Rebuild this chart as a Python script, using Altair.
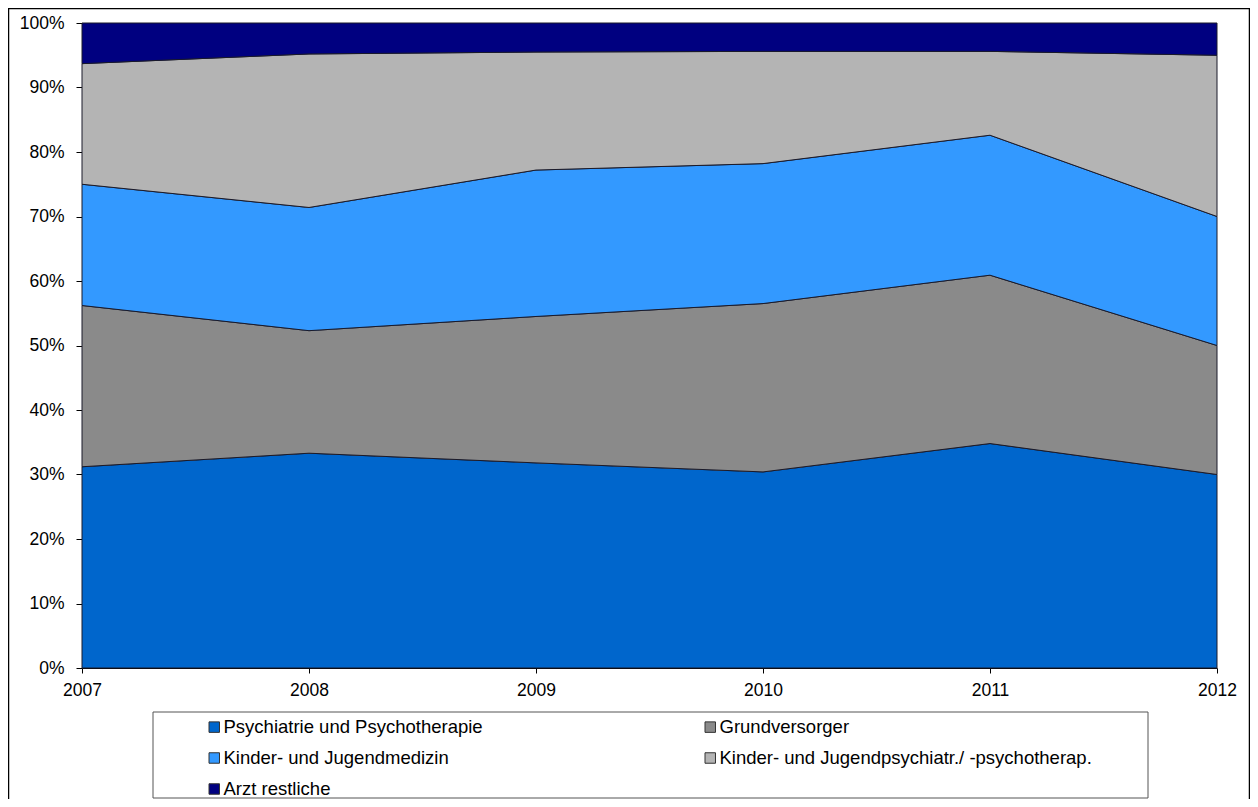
import altair as alt
import pandas as pd

years = ["2007", "2008", "2009", "2010", "2011", "2012"]
series = [
    "Psychiatrie und Psychotherapie",
    "Grundversorger",
    "Kinder- und Jugendmedizin",
    "Kinder- und Jugendpsychiatr./ -psychotherap.",
    "Arzt restliche",
]
psych = [31.2, 33.3, 31.8, 30.4, 34.8, 30.0]
grund = [25.0, 19.0, 22.7, 26.1, 26.1, 20.0]
kinder = [18.8, 19.1, 22.7, 21.7, 21.7, 20.0]
kjp = [18.7, 23.8, 18.3, 17.4, 13.0, 25.0]
arzt = [6.3, 4.8, 4.5, 4.4, 4.4, 5.0]
colors = ["#0066CC", "#8A8A8A", "#3399FF", "#B4B4B4", "#000080"]
y_ticks = [0, 0.1, 0.2, 0.3, 0.4, 0.5, 0.6, 0.7, 0.8, 0.9, 1.0]

rows = []
for i, (name, vals) in enumerate(zip(series, [psych, grund, kinder, kjp, arzt])):
    for yr, v in zip(years, vals):
        rows.append({"Jahr": yr, "Reihe": name, "Wert": v, "idx": i})
df = pd.DataFrame(rows)

# legend is filled column by column (3 rows x 2 columns), so order the
# domain so that it reads row-wise like the original
legend_order = [0, 2, 4, 1, 3]
dom = [series[k] for k in legend_order]
rng = [colors[k] for k in legend_order]

FONT = "Liberation Sans, Arial, sans-serif"

areas = alt.Chart(df).mark_area(stroke="#1a1a2a", strokeWidth=1, opacity=1).encode(
    x=alt.X(
        "Jahr:O",
        scale=alt.Scale(type="point", padding=0),
        axis=alt.Axis(labelAngle=0, title=None, tickSize=5, labelPadding=8),
    ),
    y=alt.Y(
        "Wert:Q",
        stack="normalize",
        scale=alt.Scale(domain=[0, 1], nice=False),
        axis=alt.Axis(values=y_ticks, format=".0%", title=None, grid=False,
                      tickSize=6, labelPadding=12),
    ),
    color=alt.Color(
        "Reihe:N",
        scale=alt.Scale(domain=dom, range=rng),
        sort=dom,
        legend=alt.Legend(
            title=None,
            orient="none",
            legendX=123,
            legendY=694.75,
            columns=2,
            columnPadding=218,
            rowPadding=12,
            padding=0,
            symbolType="square",
            symbolSize=110,
            symbolStrokeColor="#333333",
            symbolStrokeWidth=1,
            symbolOpacity=1,
            labelFont=FONT,
            labelFontSize=18.5,
            labelColor="#000000",
            labelOffset=0,
            labelLimit=700,
        ),
    ),
    order=alt.Order("idx:Q", sort="ascending"),
)

one = pd.DataFrame({"a": [0]})
legend_box = alt.Chart(one).mark_rect(
    fill="white", fillOpacity=0, stroke="#555555", strokeWidth=1
).encode(
    x=alt.value(71), x2=alt.value(1066), y=alt.value(689), y2=alt.value(775)
)
frame = alt.Chart(one).mark_rect(
    fill="white", fillOpacity=0, stroke="#000000", strokeWidth=1.5
).encode(
    x=alt.value(-73.5), x2=alt.value(1167.5), y=alt.value(-14.5), y2=alt.value(800)
)

chart = alt.layer(frame, legend_box, areas).properties(
    width=1135,
    height=645,
    autosize=alt.AutoSizeParams(type="none"),
    padding={"left": 74, "top": 15, "right": 33, "bottom": 131},
    background="white",
).configure_view(strokeWidth=0).configure_axis(
    labelFont=FONT,
    labelFontSize=17.5,
    labelColor="#000000",
    domainColor="#000000",
    tickColor="#000000",
    domainWidth=1,
    tickWidth=1,
)

chart.save("out.html", embed_options={"renderer": "svg", "actions": False})
